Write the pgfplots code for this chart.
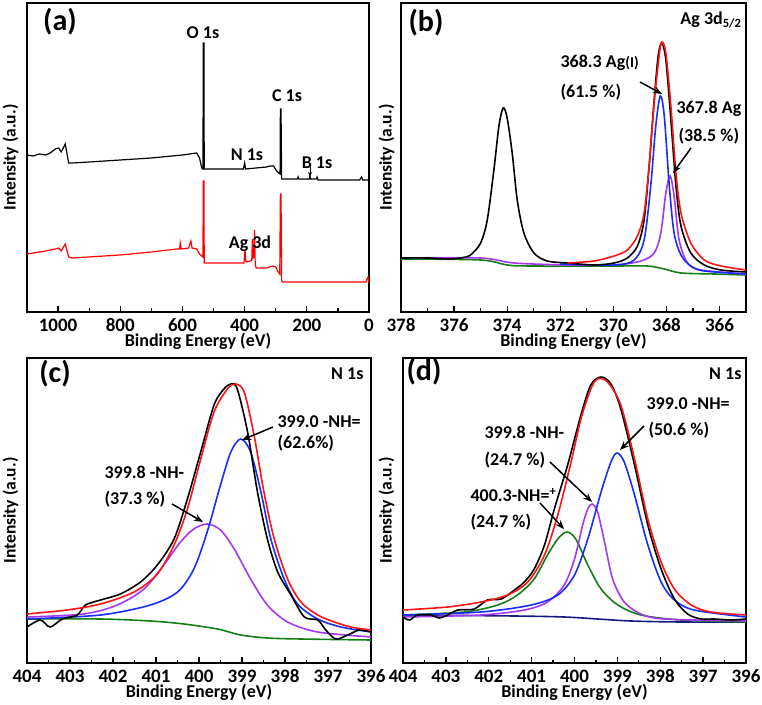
\documentclass[border=0pt]{standalone}
\usepackage{fontspec}
\setmainfont{Carlito}
\usepackage{pgfplots}
\pgfplotsset{compat=1.18}
\usetikzlibrary{arrows.meta}

\definecolor{fitred}{RGB}{250,20,20}
\definecolor{fitblue}{RGB}{25,45,250}
\definecolor{fitpurple}{RGB}{165,55,240}
\definecolor{fitgreen}{RGB}{20,125,20}
\definecolor{bgnavy}{RGB}{25,25,130}

\pgfplotsset{
  xps/.style={
    scale only axis, anchor=center, x dir=reverse,
    ymin=0, ytick=\empty, xtick pos=left,
    axis line style={line width=1.6pt},
    every tick/.style={black, line width=1.3pt},
    major tick length=6pt, minor tick length=3.5pt,
    minor x tick num=1,
    /pgf/number format/1000 sep={},
    /pgf/number format/assume math mode=true,
    tick label style={font=\fontsize{19}{19}\selectfont\bfseries, inner sep=0.5pt},
    xticklabel style={anchor=center, yshift=-13pt},
    xlabel={Binding Energy (eV)},
    ylabel={Intensity (a.u.)},
    every axis x label/.style={at={(axis description cs:0.5,0)}, anchor=center,
      yshift=-29.5pt, inner sep=0.5pt, font=\fontsize{18}{18}\selectfont\bfseries},
    every axis y label/.style={at={(axis description cs:-0.048,0.5)}, rotate=90,
      anchor=center, inner sep=0.5pt, font=\fontsize{17.5}{17.5}\selectfont\bfseries},
  },
  spec/.style={line width=1.6pt, smooth, tension=0.5},
}
\newcommand{\ann}{\fontsize{18}{18}\selectfont\bfseries}

\begin{document}
\begin{tikzpicture}
\useasboundingbox (0pt,0pt) rectangle (762pt,704pt);

% (a) survey: box 27..369 x, 392..701 y
\begin{axis}[xps, at={(198pt,546.5pt)}, width=342pt, height=309pt,
  xmin=0, xmax=1100, ymax=309, xtick={0,200,...,1000}]
\addplot[black, line width=1.2pt] coordinates {
 (1100,157) (1080,156) (1060,158) (1040,157) (1025,159) (1009,163) (998,164) (990,160)
 (977,168) (966,149) (955,149) (900,150) (800,152) (700,154) (600,157) (554,159)
 (545,154) (538,144) (534,143) (533,269) (531,269) (530,143) (520,143) (409,143)
 (404,143) (400,149) (397,143) (330,145) (318,146) (307,146) (297,141) (286,138)
 (285,203) (283,203) (281,133) (277,133) (230,133) (228,135) (226,133) (192,133)
 (190,136) (188,133) (170,133) (167,135) (164,132) (30,132) (24,135) (20,132) (0,132)
};
\addplot[red, line width=1.2pt] coordinates {
 (1100,58) (1080,59) (1060,60) (1040,61) (1025,62) (1009,63) (998,64) (990,61)
 (977,68) (966,55) (955,54) (800,57) (700,60) (619,63) (609,63) (607,69) (604,63)
 (580,64) (573,71) (569,64) (554,63) (545,58) (538,56) (534,55) (533,131) (531,131)
 (530,49) (520,49) (409,49) (402,49) (399,63) (396,50) (380,51) (377,52) (375,73)
 (373,54) (370,55) (368,82) (366,48) (363,44) (330,44) (310,46) (300,45) (292,40)
 (287,38) (285,118) (283,118) (281,31) (277,30) (100,30) (10,30) (5,34) (3,35) (1,30) (0,29)
};
\end{axis}

% (b) Ag 3d: box 401..746, 392..701
\begin{axis}[xps, at={(573.5pt,546.5pt)}, width=345pt, height=309pt,
  xmin=365, xmax=378, ymax=309, xtick={366,368,...,378},
  every axis y label/.append style={at={(axis description cs:-0.042,0.5)}}]
\addplot[spec, fitgreen] coordinates {
 (378,53) (375.0,52) (374.0,47) (373.12,46) (369.97,46) (368.71,46) (368.08,43)
 (367.45,39) (366.20,38) (365,37)
};
\addplot[spec, fitpurple] coordinates {
 (378,54) (375.0,54) (373.75,49) (371.73,47) (369.97,47) (368.96,51) (368.46,59)
 (368.21,79) (368.02,119) (367.86,136) (367.71,116) (367.52,72) (367.20,49)
 (366.70,42) (365,38)
};
\addplot[spec, fitblue] coordinates {
 (372,48) (369.97,47) (369.22,52) (368.84,72) (368.59,126) (368.40,186) (368.23,216)
 (368.08,196) (367.89,126) (367.71,79) (367.45,57) (367.08,46) (366.57,41) (365,38)
};
\addplot[spec, black] coordinates {
 (378,54) (377,54) (376.26,53) (375.76,54) (375.38,57) (375.0,69) (374.75,92)
 (374.5,142) (374.31,186) (374.15,204) (374.0,194) (373.81,159) (373.62,112)
 (373.37,79) (372.99,59) (372.49,51) (371.73,49) (370.73,47) (369.97,49) (369.47,54)
 (369.09,66) (368.84,92) (368.65,146) (368.46,212) (368.31,256) (368.17,269)
 (368.02,252) (367.83,192) (367.64,126) (367.45,86) (367.08,59) (366.57,47)
 (365.94,42) (365,40)
};
\addplot[spec, fitred] coordinates {
 (371.73,49) (370.73,51) (369.97,56) (369.47,62) (369.09,76) (368.84,99) (368.65,146)
 (368.46,209) (368.27,257) (368.17,270) (368.02,259) (367.83,206) (367.64,139)
 (367.45,99) (367.08,69) (366.57,52) (365.94,46) (365,42)
};
\end{axis}

% (c) N 1s: box 27..371, 41..346
\begin{axis}[xps, at={(199pt,193.5pt)}, width=344pt, height=305pt,
  xmin=396, xmax=404, ymax=305, xtick={396,...,404}]
\addplot[spec, fitgreen] coordinates {
 (404,44) (402.29,44) (401.13,42) (400.35,39) (399.57,34) (399.03,28) (398.41,25)
 (397.63,24) (396,23)
};
\addplot[spec, fitpurple] coordinates {
 (404,46) (402.68,49) (401.90,58) (401.28,74) (400.82,98) (400.43,121) (400.12,134)
 (399.81,139) (399.50,133) (399.18,114) (398.80,84) (398.41,58) (397.94,41)
 (397.24,31) (396,26)
};
\addplot[spec, fitblue] coordinates {
 (404,44) (402.29,48) (401.13,58) (400.50,71) (400.12,94) (399.81,131) (399.50,178)
 (399.26,211) (399.03,224) (398.80,211) (398.56,171) (398.33,124) (398.02,84)
 (397.71,59) (397.24,44) (396.70,36) (396,31)
};
\addplot[spec, black] coordinates {
 (404,36) (403.69,43) (403.46,36) (403.18,44) (402.83,48) (402.64,58) (402.29,63)
 (401.83,69) (401.36,81) (400.97,98) (400.58,124) (400.27,164) (399.96,211)
 (399.65,258) (399.42,274) (399.26,279) (399.11,274) (398.87,231) (398.64,171)
 (398.41,124) (398.17,91) (397.86,68) (397.55,46) (397.24,43) (397.05,33)
 (396.82,24) (396.54,28) (396.27,33) (396,31)
};
\addplot[spec, fitred] coordinates {
 (404,49) (403.07,53) (402.29,59) (401.51,71) (400.97,89) (400.58,118) (400.27,154)
 (399.96,204) (399.65,251) (399.34,274) (399.15,279) (398.95,271) (398.72,228)
 (398.49,171) (398.25,124) (397.94,84) (397.63,61) (397.24,48) (396.85,41)
 (396.47,36) (396,33)
};
\end{axis}

% (d) N 1s: box 403..746, 41..346
\begin{axis}[xps, at={(574.5pt,193.5pt)}, width=343pt, height=305pt,
  xmin=396, xmax=404, ymax=305, xtick={396,...,404}]
\addplot[spec, bgnavy] coordinates {
 (404,48) (401.40,47) (400.24,46) (399.46,44) (398.68,42) (397.52,41) (396,41)
};
\addplot[spec, fitgreen] coordinates {
 (404,48) (402.57,51) (401.79,58) (401.33,68) (400.94,84) (400.63,108) (400.39,124)
 (400.18,131) (399.97,124) (399.69,98) (399.38,74) (398.99,58) (398.45,48)
 (397.52,43) (396,41)
};
\addplot[spec, fitpurple] coordinates {
 (404,46) (402.18,48) (401.17,53) (400.63,61) (400.24,78) (400.00,104) (399.81,138)
 (399.69,154) (399.59,159) (399.46,151) (399.30,121) (399.11,84) (398.84,61)
 (398.45,49) (397.90,44) (396,42)
};
\addplot[spec, fitblue] coordinates {
 (404,48) (402.18,51) (401.01,58) (400.39,68) (400.00,88) (399.69,124) (399.38,171)
 (399.15,201) (399.01,210) (398.84,201) (398.60,168) (398.29,118) (397.98,81)
 (397.67,63) (397.21,53) (396,46)
};
\addplot[spec, black] coordinates {
 (404,46) (403.85,43) (403.66,48) (403.35,48) (403.15,45) (402.96,48) (402.72,53)
 (402.34,54) (402.03,63) (401.71,64) (401.40,73) (401.17,81) (400.94,94)
 (400.70,118) (400.47,154) (400.16,198) (399.85,248) (399.62,278) (399.38,286)
 (399.15,279) (398.92,254) (398.60,198) (398.29,138) (397.98,94) (397.67,64)
 (397.36,49) (397.05,44) (396.74,44) (396.35,43) (396,44)
};
\addplot[spec, fitred] coordinates {
 (404,53) (402.96,56) (402.18,61) (401.56,68) (401.09,81) (400.70,108) (400.39,148)
 (400.08,201) (399.85,244) (399.62,274) (399.46,284) (399.23,281) (398.92,258)
 (398.60,204) (398.29,144) (397.98,101) (397.67,74) (397.28,58) (396.82,51) (396,48)
};
\end{axis}

% panel letters and annotations
\begin{scope}[x=1pt, y=1pt]
\tikzset{arr/.style={-{Stealth[length=9pt, width=7pt]}, line width=1.5pt}}
\node[font=\fontsize{30}{30}\selectfont\bfseries] at (60,682) {(a)};
\node[font=\fontsize{30}{30}\selectfont\bfseries] at (426,681) {(b)};
\node[font=\fontsize{30}{30}\selectfont\bfseries] at (55,330) {(c)};
\node[font=\fontsize{30}{30}\selectfont\bfseries] at (424,332) {(d)};

\node[font=\ann] at (203,671) {O 1s};
\node[font=\ann] at (287,608) {C 1s};
\node[font=\ann] at (247,549) {N 1s};
\node[font=\ann] at (317,541) {B 1s};
\draw[-{Stealth[length=5pt, width=4pt]}, line width=1pt] (310,537) -- (310,527);
\node[font=\ann] at (250,460) {Ag 3d};

\node[font=\ann, anchor=east] at (745,684) {Ag 3d\textsubscript{5/2}};
\node[font=\ann, anchor=west] at (557,641) {368.3 Ag{\fontsize{15}{15}\selectfont(I)}};
\node[font=\ann, anchor=west] at (557,612) {(61.5 \%)};
\draw[arr] (640,622) -- (662,610);
\node[font=\ann, anchor=west] at (673,595) {367.8 Ag};
\node[font=\ann, anchor=west] at (675,568) {(38.5 \%)};
\draw[arr] (691,556) -- (673,531);

\node[font=\ann, anchor=east] at (367,330) {N 1s};
\node[font=\ann, anchor=west] at (274,282) {399.0 -NH=};
\node[font=\ann, anchor=west] at (274,261) {(62.6\%)};
\draw[arr] (273,277) -- (242,264);
\node[font=\ann, anchor=west] at (101,232) {399.8 -NH-};
\node[font=\ann, anchor=west] at (101,205) {(37.3 \%)};
\draw[arr] (172,200) -- (203,182);

\node[font=\ann, anchor=east] at (745,330) {N 1s};
\node[font=\ann, anchor=west] at (643,300) {399.0 -NH=};
\node[font=\ann, anchor=west] at (645,274) {(50.6 \%)};
\draw[arr] (644,278) -- (620,254);
\node[font=\ann, anchor=west] at (481,272) {399.8 -NH-};
\node[font=\ann, anchor=west] at (481,244) {(24.7 \%)};
\draw[arr] (550,242) -- (592,202);
\node[font=\ann, anchor=west] at (467,209) {400.3-NH=\textsuperscript{+}};
\node[font=\ann, anchor=west] at (467,182) {(24.7 \%)};
\draw[arr] (540,201) -- (564,175);
\end{scope}
\end{tikzpicture}
\end{document}
